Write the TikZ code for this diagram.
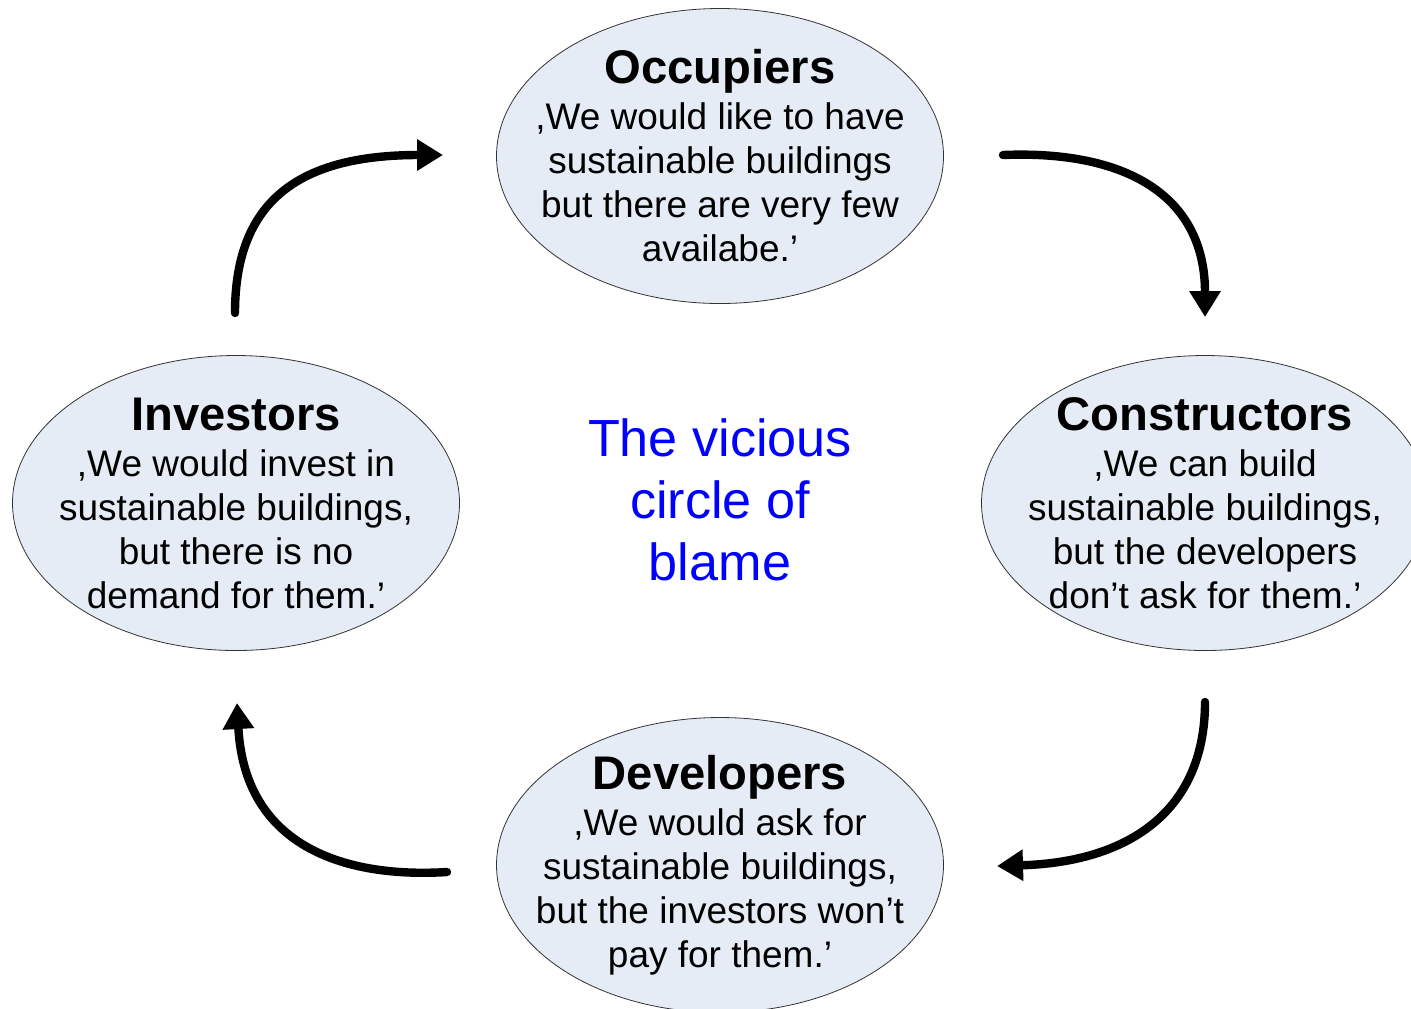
\documentclass[tikz,border=0pt]{standalone}
\usepackage{fontspec}
\setmainfont{Liberation Sans}
\usepackage{tikz}
\usetikzlibrary{arrows.meta, shapes.geometric}
\definecolor{bubble}{RGB}{230, 236, 246}
\definecolor{vicious}{RGB}{0, 0, 255}

\begin{document}
\begin{tikzpicture}[x=0.5pt, y=-0.5pt,
  party/.style={ellipse, draw=black!80, line width=0.4pt, fill=bubble,
    minimum width=223.5pt, minimum height=147.5pt, inner sep=0pt},
  quote/.style={align=center, font=\fontsize{18.5}{22}\selectfont},
  blame/.style={line width=4.2pt, line cap=round, -{Triangle[length=13pt, width=15pt]}}]

  \useasboundingbox (0,0) rectangle (1411,1008);

  % The four parties
  \node[party] (occ) at (720,156) {};
  \node[party] (con) at (1205,503) {};
  \node[party] (dev) at (720,865) {};
  \node[party] (inv) at (236,503) {};

  % What each of them says
  \node[quote] (occtext) at (occ) {{\fontsize{23.6}{26}\selectfont\bfseries Occupiers}\\[1pt]
    ,We would like to have\\ sustainable buildings\\ but there are very few\\ availabe.’};
  \node[quote] (context) at (con) {{\fontsize{23.6}{26}\selectfont\bfseries Constructors}\\[1pt]
    ,We can build\\ sustainable buildings,\\ but the developers\\ don’t ask for them.’};
  \node[quote] (devtext) at (dev) {{\fontsize{23.6}{26}\selectfont\bfseries Developers}\\[1pt]
    ,We would ask for\\ sustainable buildings,\\ but the investors won’t\\ pay for them.’};
  \node[quote] (invtext) at (inv) {{\fontsize{23.6}{26}\selectfont\bfseries Investors}\\[1pt]
    ,We would invest in\\ sustainable buildings,\\ but there is no\\ demand for them.’};

  % Centre caption
  \node[align=center, text=vicious, font=\fontsize{26.1}{31}\selectfont] (circle) at (720,500)
    {The vicious\\ circle of\\ blame};

  % Arrow ends
  \coordinate (invout) at (235,313);
  \coordinate (occin)  at (443,155);
  \coordinate (occout) at (1003,155);
  \coordinate (conin)  at (1205,317);
  \coordinate (conout) at (1205,702);
  \coordinate (devin)  at (997,866);
  \coordinate (devout) at (447,872);
  \coordinate (invin)  at (237,703);

  % Arrows round the circle
  \draw[blame] (invout) .. controls (235,200) and (300,155) .. (occin);
  \draw[blame] (occout) .. controls (1125,150) and (1205,195) .. (conin);
  \draw[blame] (conout) .. controls (1205,810) and (1130,862) .. (devin);
  \draw[blame] (devout) .. controls (350,878) and (245,850) .. (invin);
\end{tikzpicture}
\end{document}
